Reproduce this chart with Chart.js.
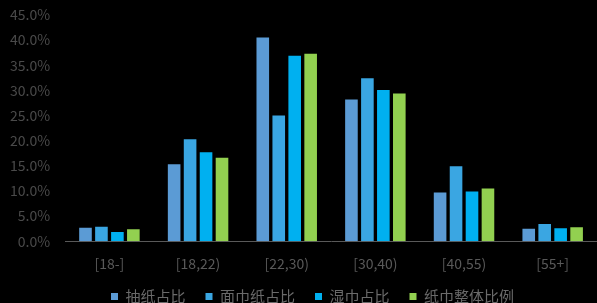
<!DOCTYPE html>
<html>
<head>
<meta charset="utf-8">
<script src="https://cdn.jsdelivr.net/npm/chart.js@4/dist/chart.umd.min.js"></script>
<style>
  html, body { margin: 0; padding: 0; background: #000; }
  #wrap { width: 597px; height: 303px; }
</style>
</head>
<body>
<div id="wrap"><canvas id="chart"></canvas></div>
<script>
const categories = ['[18-]', '[18,22)', '[22,30)', '[30,40)', '[40,55)', '[55+]'];
const chouzhi = [2.7, 15.3, 40.5, 28.2, 9.7, 2.5];
const mianjinzhi = [2.85, 20.3, 25.0, 32.4, 14.9, 3.4];
const shijin = [1.85, 17.7, 36.9, 30.1, 9.9, 2.6];
const zhijinTotal = [2.4, 16.6, 37.3, 29.4, 10.5, 2.8];
const seriesNames = ['抽纸占比', '面巾纸占比', '湿巾占比', '纸巾整体比例'];
const seriesColors = ['#5b9bd5', '#3aa6e2', '#00b0f0', '#92d050'];

const font = "'Noto Sans CJK SC', 'Noto Sans', sans-serif";
const seriesValues = [chouzhi, mianjinzhi, shijin, zhijinTotal];

// the legend takes little room in the layout but is drawn lower and a bit right
const legendTweak = {
  id: 'legendTweak',
  afterInit(chart) {
    const legend = chart.legend;
    const fit = legend.fit;
    legend.fit = function () {
      fit.call(this);
      this.height = 26;
    };
    const draw = legend.draw;
    legend.draw = function () {
      const { top, bottom, left, right } = this;
      this.top = 269;
      this.bottom = chart.height;
      this.left = left + 9;
      this.right = right + 9;
      draw.call(this);
      Object.assign(this, { top, bottom, left, right });
    };
  },
};

new Chart(document.getElementById('chart'), {
  type: 'bar',
  data: {
    labels: categories,
    datasets: seriesValues.map((vals, i) => ({
      label: seriesNames[i],
      data: vals,
      backgroundColor: seriesColors[i],
      categoryPercentage: 0.72,
      barPercentage: 0.79,
    })),
  },
  options: {
    responsive: true,
    maintainAspectRatio: false,
    animation: false,
    layout: { padding: { top: 15, right: 0, left: 10, bottom: 0 } },
    plugins: {
      tooltip: { enabled: false },
      legend: {
        position: 'bottom',
        labels: {
          color: '#6a6a6a',
          font: { family: font, size: 15 },
          boxWidth: 7,
          boxHeight: 7,
          padding: 20,
        },
      },
    },
    scales: {
      x: {
        grid: { display: false, drawTicks: true, tickLength: 9 },
        border: { color: '#595959' },
        ticks: { color: '#595959', font: { family: font, size: 14 }, padding: 5 },
      },
      y: {
        min: 0,
        max: 45,
        grid: { display: false, drawTicks: true, tickLength: 15 },
        border: { display: false },
        ticks: {
          stepSize: 5,
          color: '#4a4a4a',
          font: { family: font, size: 14 },
          padding: 0,
          callback: (v) => v.toFixed(1) + '%',
        },
      },
    },
  },
  plugins: [legendTweak],
});
</script>
</body>
</html>
